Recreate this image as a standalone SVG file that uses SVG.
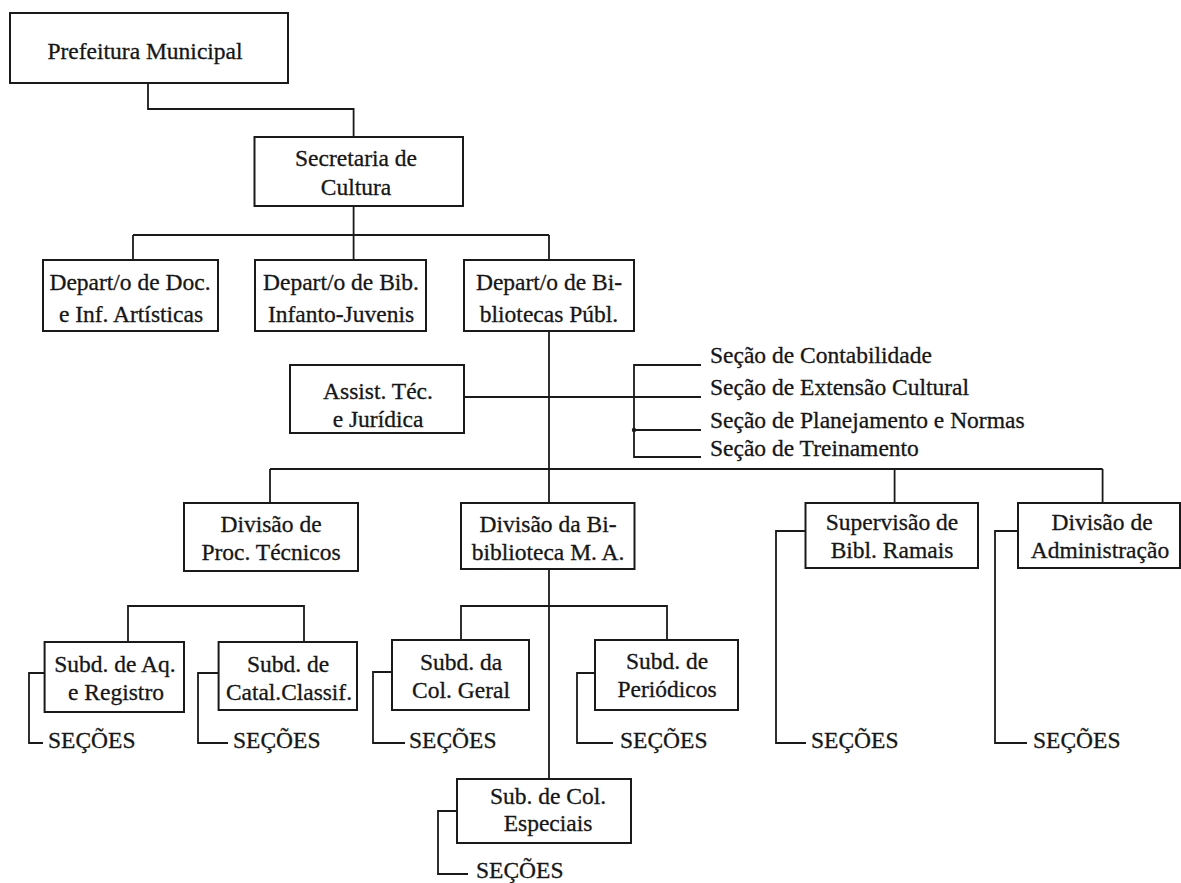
<svg xmlns="http://www.w3.org/2000/svg" width="1181" height="883" viewBox="0 0 1181 883">
<style>
  .box { fill: #fff; stroke: #1a1a1a; stroke-width: 2; }
  .ln { fill: none; stroke: #1a1a1a; stroke-width: 1.8; }
  text { font-family: "Liberation Serif", "Times New Roman", serif; font-size: 23.5px; fill: #161616; stroke: #161616; stroke-width: 0.3; }
  .c { text-anchor: middle; }
</style>
<rect width="1181" height="883" fill="#fff"/>
<g id="connectors" class="ln">
  <path d="M148,83 V109 H353.6 V137"/>
  <path d="M353.6,206 V260"/>
  <path d="M133,235 H549"/>
  <path d="M133,235 V260"/>
  <path d="M549,235 V260"/>
  <path d="M549,331 V503"/>
  <path d="M549,569 V779"/>
  <path d="M464,397 H701"/>
  <path d="M701,365 H634 V457 H701"/>
  <path d="M634,430 H701"/>
  <path d="M270,469 H1102.6"/>
  <path d="M270,469 V503"/>
  <path d="M894.6,469 V503"/>
  <path d="M1102.6,469 V503"/>
  <path d="M128,642 V606 H304 V642"/>
  <path d="M461,640 V606 H667 V640"/>
  <path d="M44.6,673 H29 V743 H43"/>
  <path d="M218.6,673 H198 V743 H228"/>
  <path d="M392,672 H373 V743 H405"/>
  <path d="M595,673 H577 V743 H613"/>
  <path d="M805.5,531 H776 V743 H806"/>
  <path d="M1018,531 H995 V743 H1027"/>
  <path d="M457,811 H438 V874 H468"/>
  <circle cx="634" cy="430" r="2.2" fill="#1a1a1a" stroke="none"/>
</g>
<g id="prefeitura">
  <rect class="box" x="10" y="13" width="278" height="70"/>
  <text class="c" x="145" y="59">Prefeitura Municipal</text>
</g>
<g id="secretaria">
  <rect class="box" x="254.5" y="137" width="208.5" height="69"/>
  <text class="c" x="356" y="166">Secretaria de</text>
  <text class="c" x="356" y="195">Cultura</text>
</g>
<g id="dept-doc">
  <rect class="box" x="43" y="260" width="175" height="71"/>
  <text class="c" x="130" y="290">Depart/o de Doc.</text>
  <text class="c" x="131" y="322">e Inf. Artísticas</text>
</g>
<g id="dept-bib-infanto">
  <rect class="box" x="255" y="260" width="171" height="71"/>
  <text class="c" x="341" y="290">Depart/o de Bib.</text>
  <text class="c" x="341" y="322">Infanto-Juvenis</text>
</g>
<g id="dept-bib-publ">
  <rect class="box" x="464" y="260" width="170" height="71"/>
  <text class="c" x="549" y="290">Depart/o de Bi-</text>
  <text class="c" x="549" y="322">bliotecas Públ.</text>
</g>
<g id="assist">
  <rect class="box" x="290" y="365" width="174" height="68"/>
  <text class="c" x="378" y="399">Assist. Téc.</text>
  <text class="c" x="378" y="427">e Jurídica</text>
</g>
<g id="secoes-list">
  <text x="710" y="363">Seção de Contabilidade</text>
  <text x="710" y="395">Seção de Extensão Cultural</text>
  <text x="710" y="428">Seção de Planejamento e Normas</text>
  <text x="710" y="456">Seção de Treinamento</text>
</g>
<g id="div-proc">
  <rect class="box" x="184" y="503" width="174" height="68"/>
  <text class="c" x="271" y="532">Divisão de</text>
  <text class="c" x="271" y="560">Proc. Técnicos</text>
</g>
<g id="div-bib">
  <rect class="box" x="461" y="503" width="173.5" height="66"/>
  <text class="c" x="548" y="532">Divisão da Bi-</text>
  <text class="c" x="548" y="560">biblioteca M. A.</text>
</g>
<g id="supervisao">
  <rect class="box" x="805.5" y="503" width="172.5" height="65"/>
  <text class="c" x="892" y="530">Supervisão de</text>
  <text class="c" x="892" y="558">Bibl. Ramais</text>
</g>
<g id="div-admin">
  <rect class="box" x="1018" y="503" width="162" height="65"/>
  <text class="c" x="1102" y="530">Divisão de</text>
  <text class="c" x="1100" y="558">Administração</text>
</g>
<g id="subd-aq">
  <rect class="box" x="44.6" y="642" width="139.4" height="70"/>
  <text class="c" x="115" y="672">Subd. de Aq.</text>
  <text class="c" x="116" y="700">e Registro</text>
</g>
<g id="subd-catal">
  <rect class="box" x="218.6" y="642" width="138.4" height="68"/>
  <text class="c" x="288" y="672">Subd. de</text>
  <text class="c" x="289" y="700" textLength="126" lengthAdjust="spacingAndGlyphs">Catal.Classif.</text>
</g>
<g id="subd-col-geral">
  <rect class="box" x="392" y="640" width="137" height="70"/>
  <text class="c" x="461" y="670">Subd. da</text>
  <text class="c" x="461" y="698">Col. Geral</text>
</g>
<g id="subd-periodicos">
  <rect class="box" x="595" y="640" width="143" height="70"/>
  <text class="c" x="667" y="669">Subd. de</text>
  <text class="c" x="667" y="697">Periódicos</text>
</g>
<g id="sub-col-especiais">
  <rect class="box" x="457" y="779" width="174" height="64"/>
  <text class="c" x="548" y="804">Sub. de Col.</text>
  <text class="c" x="548" y="831">Especiais</text>
</g>
<g id="secoes-labels">
  <text x="48" y="748">SEÇÕES</text>
  <text x="233" y="748">SEÇÕES</text>
  <text x="409" y="748">SEÇÕES</text>
  <text x="620" y="748">SEÇÕES</text>
  <text x="811" y="748">SEÇÕES</text>
  <text x="1033" y="748">SEÇÕES</text>
  <text x="476" y="878">SEÇÕES</text>
</g>
</svg>
